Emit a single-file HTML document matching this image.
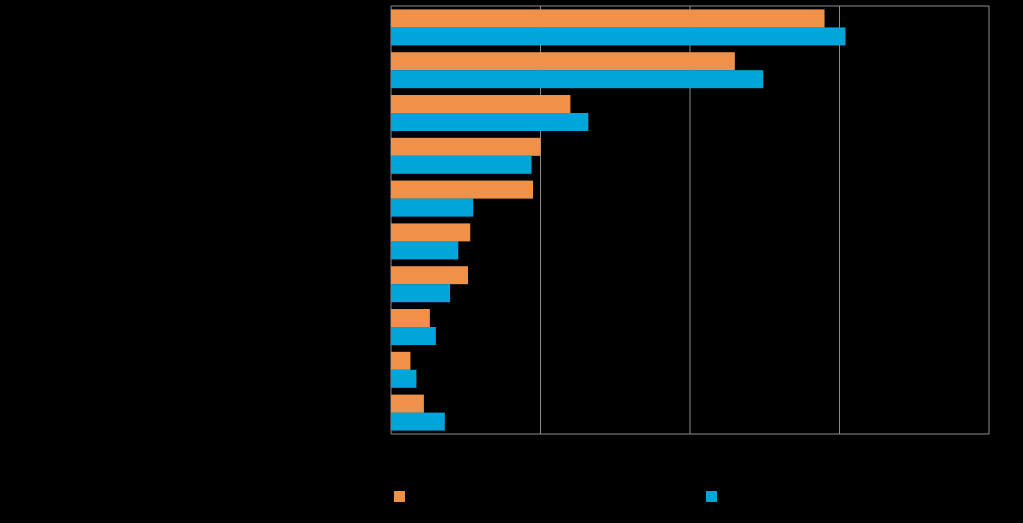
<!DOCTYPE html>
<html><head><meta charset="utf-8"><style>
html,body{margin:0;padding:0;background:#000;}
svg{display:block;font-family:"Liberation Sans",sans-serif;}
</style></head><body>
<svg id="chart" width="1023" height="523">
<rect x="0" y="0" width="1023" height="523" fill="#000"/>
<g id="grid"></g>
<g id="bars"></g>
<rect x="394" y="491" width="11" height="11" fill="#F0914A"/>
<rect x="706" y="491" width="11" height="11" fill="#00A6D9"/>
</svg>
<script>
const categories = ["c1","c2","c3","c4","c5","c6","c7","c8","c9","c10"];
const series1 = [29.0, 23.0, 12.0, 10.0, 9.5, 5.3, 5.15, 2.6, 1.3, 2.2];
const series2 = [30.4, 24.9, 13.2, 9.4, 5.5, 4.5, 3.95, 3.0, 1.7, 3.6];
const ticks = [0, 10, 20, 30, 40];

const X0 = 391, X1 = 989, Y0 = 6, Y1 = 434;
const xMax = 40;
const x = v => X0 + v / xMax * (X1 - X0);
const band = (Y1 - Y0) / categories.length;
const ns = "http://www.w3.org/2000/svg";
const grid = document.getElementById("grid");
const bars = document.getElementById("bars");

ticks.forEach(t => {
  const l = document.createElementNS(ns, "line");
  
  
  l.setAttribute("x1", x(t)); l.setAttribute("x2", x(t));
  l.setAttribute("y1", Y0); l.setAttribute("y2", Y1);
  l.setAttribute("stroke", "#8c8c8c"); l.setAttribute("stroke-width", "1");
  grid.appendChild(l);
});
[Y0, Y1].forEach(y => {
  const l = document.createElementNS(ns, "line");
  
  
  l.setAttribute("x1", X0); l.setAttribute("x2", X1);
  l.setAttribute("y1", y); l.setAttribute("y2", y);
  l.setAttribute("stroke", "#8c8c8c"); l.setAttribute("stroke-width", "1");
  grid.appendChild(l);
});

const barH = 18;
categories.forEach((c, i) => {
  const top = Y0 + i * band + (band - 2 * barH) / 2;
  const r1 = document.createElementNS(ns, "rect");
  
  
  r1.setAttribute("x", x(0)); r1.setAttribute("y", top);
  r1.setAttribute("width", x(series1[i]) - x(0)); r1.setAttribute("height", barH);
  r1.setAttribute("fill", "#F0914A");
  bars.appendChild(r1);
  const r2 = document.createElementNS(ns, "rect");
  
  
  r2.setAttribute("x", x(0)); r2.setAttribute("y", top + barH);
  r2.setAttribute("width", x(series2[i]) - x(0)); r2.setAttribute("height", barH);
  r2.setAttribute("fill", "#00A6D9");
  bars.appendChild(r2);
});
</script>
</body></html>
